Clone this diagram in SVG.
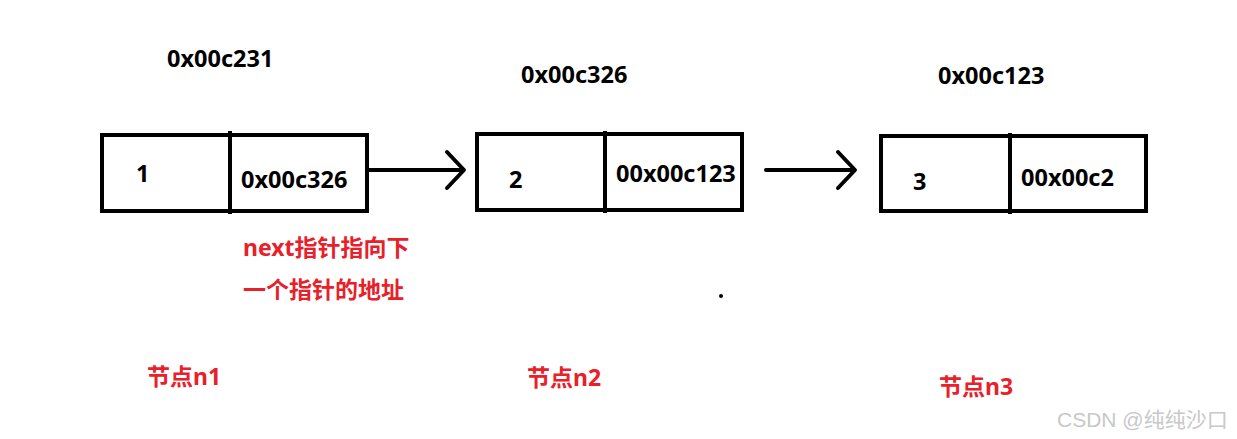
<svg xmlns="http://www.w3.org/2000/svg" width="1237" height="439" viewBox="0 0 1237 439">
<style>
.box{fill:none;stroke:#000;stroke-width:4}
.div{stroke:#000;stroke-width:4}
.conn{fill:none;stroke:#000;stroke-width:4;stroke-linecap:round;stroke-linejoin:round}
.t{font-family:"Noto Sans","Noto Sans CJK SC",sans-serif;font-weight:bold;font-size:23.5px;fill:#000}
.r{font-family:"Noto Sans","Noto Sans CJK SC",sans-serif;font-weight:bold;font-size:23px;fill:#e8202a}
.w{font-family:"Liberation Sans","Noto Sans CJK SC",sans-serif;font-size:21px;fill:#c8c8c8}
</style>
<rect width="1237" height="439" fill="#fff"/>
<g id="n1">
<rect class="box" x="102" y="135" width="265" height="76"/>
<line class="div" x1="230" y1="131" x2="230" y2="214"/>
<text class="t" x="136" y="182">1</text>
<text class="t" x="241" y="188">0x00c326</text>
<text class="t" x="167" y="67">0x00c231</text>
<text class="r" x="147" y="385">节点n1</text>
</g>
<g id="n2">
<rect class="box" x="477" y="134" width="265" height="76"/>
<line class="div" x1="605" y1="131" x2="605" y2="213"/>
<text class="t" x="509" y="188">2</text>
<text class="t" x="616" y="182">00x00c123</text>
<text class="t" x="521" y="83">0x00c326</text>
<text class="r" x="527" y="386">节点n2</text>
</g>
<g id="n3">
<rect class="box" x="881" y="136" width="265" height="75"/>
<line class="div" x1="1010" y1="133" x2="1010" y2="214"/>
<text class="t" x="913" y="190">3</text>
<text class="t" x="1021" y="186">00x00c2</text>
<text class="t" x="938" y="84">0x00c123</text>
<text class="r" x="939" y="395">节点n3</text>
</g>
<g id="note">
<text class="r" x="243" y="256">next指针指向下</text>
<text class="r" x="243" y="298">一个指针的地址</text>
</g>
<g id="connectors">
<path class="conn" d="M368 170 H462 M447 152 L464 170 L447 188"/>
<path class="conn" d="M766 170 H852 M838 152 L855 170 L838 188"/>
</g>
<circle cx="721" cy="296" r="2" fill="#000"/>
<text class="w" x="1057" y="427">CSDN @纯纯沙口</text>
</svg>
